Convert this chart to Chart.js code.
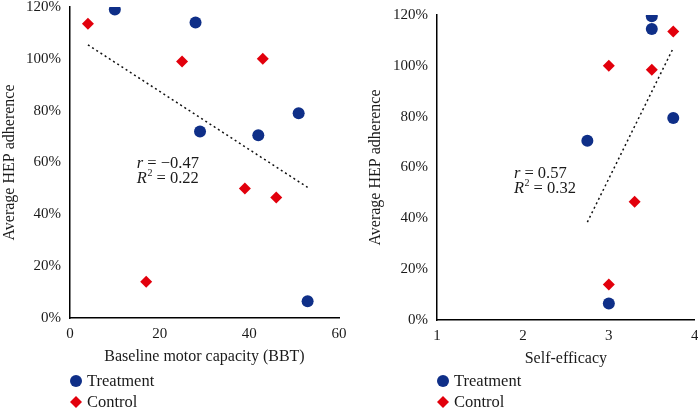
<!DOCTYPE html>
<html>
<head>
<meta charset="utf-8">
<script src="https://cdn.jsdelivr.net/npm/chart.js@4/dist/chart.umd.min.js"></script>
<style>
  html, body { margin: 0; padding: 0; background: #fff; overflow: hidden; }
  body { width: 698px; height: 409px; position: relative; }
  .box { position: absolute; }
</style>
</head>
<body>
<div class="box" id="leftBox" style="left:0px; top:-11px; width:354px; height:420px;"><canvas id="c1"></canvas></div>
<div class="box" id="rightBox" style="left:349px; top:-3px; width:357px; height:412px;"><canvas id="c2"></canvas></div>
<script>
// ---- Data ----
const yTicks = [0, 20, 40, 60, 80, 100, 120];
const bbtTicks = [0, 20, 40, 60];
const seTicks = [1, 2, 3, 4];

const bbtTreatX = [10, 28, 29, 42, 51, 53];
const bbtTreatY = [119, 114, 72, 70.5, 79, 6.5];
const bbtCtrlX = [4, 25, 43, 39, 46, 17];
const bbtCtrlY = [113.5, 99, 100, 50, 46.5, 14];
const bbtTrendX = [4, 53];
const bbtTrendY = [105.4, 50.4];

const seTreatX = [3.5, 3.5, 3.75, 2.75, 3];
const seTreatY = [119.5, 114.5, 79.5, 70.5, 6.5];
const seCtrlX = [3.75, 3, 3.5, 3.3, 3];
const seCtrlY = [113.5, 100, 98.5, 46.5, 14];
const seTrendX = [2.75, 3.75];
const seTrendY = [38.5, 107];

const seriesNames = ['Treatment', 'Control'];
const yTitle = 'Average HEP adherence';
const bbtTitle = 'Baseline motor capacity (BBT)';
const seTitle = 'Self-efficacy';
const bbtStats = { r: '\u22120.47', r2: '0.22' };
const seStats = { r: '0.57', r2: '0.32' };

// ---- Styles ----
const BLUE = '#0f2f88';
const RED = '#e2000c';
const FONT = "'Liberation Serif', 'Times New Roman', serif";
const TXT = '#1a1a1a';

function pts(xs, ys) { return xs.map((x, i) => ({ x: x, y: ys[i] })); }

function makeChart(canvasId, cfg) {
  const legendPlugin = {
    id: 'customLegendAndStats',
    afterDraw(chart) {
      const ctx = chart.ctx;
      const xs = chart.scales.x, ys = chart.scales.y;
      ctx.save();
      const ax = xs.getPixelForValue(cfg.statPos[0]);
      const ay = ys.getPixelForValue(cfg.statPos[1]);
      ctx.fillStyle = TXT;
      ctx.textBaseline = 'alphabetic';
      ctx.textAlign = 'left';
      ctx.font = 'italic 16.5px ' + FONT;
      ctx.fillText('r', ax, ay);
      let w = ctx.measureText('r').width;
      ctx.font = '16.5px ' + FONT;
      ctx.fillText(' = ' + cfg.stats.r, ax + w, ay);
      const ay2 = ay + 15;
      ctx.font = 'italic 16.5px ' + FONT;
      ctx.fillText('R', ax, ay2);
      w = ctx.measureText('R').width;
      ctx.font = '10px ' + FONT;
      ctx.fillText('2', ax + w + 0.5, ay2 - 7);
      const w2 = ctx.measureText('2').width;
      ctx.font = '16.5px ' + FONT;
      ctx.fillText(' = ' + cfg.stats.r2, ax + w + 0.5 + w2, ay2);
      const lx = cfg.legendX, ly = cfg.legendY;
      ctx.fillStyle = BLUE;
      ctx.beginPath();
      ctx.arc(lx, ly, 6, 0, Math.PI * 2);
      ctx.fill();
      ctx.fillStyle = RED;
      ctx.beginPath();
      ctx.moveTo(lx - 6, ly + 21);
      ctx.lineTo(lx, ly + 15);
      ctx.lineTo(lx + 6, ly + 21);
      ctx.lineTo(lx, ly + 27);
      ctx.closePath();
      ctx.fill();
      ctx.fillStyle = TXT;
      ctx.font = '16.5px ' + FONT;
      ctx.fillText(seriesNames[0], lx + 11, ly + 5);
      ctx.fillText(seriesNames[1], lx + 11, ly + 26);
      ctx.restore();
    }
  };

  return new Chart(document.getElementById(canvasId), {
    type: 'scatter',
    data: {
      datasets: [
        { label: seriesNames[0], data: pts(cfg.tx, cfg.ty), pointStyle: 'circle', pointRadius: 6, pointHoverRadius: 6,
          backgroundColor: BLUE, borderColor: BLUE, borderWidth: 0 },
        { label: seriesNames[1], data: pts(cfg.cx, cfg.cy), pointStyle: 'rectRot', pointRadius: 6, pointHoverRadius: 6,
          backgroundColor: RED, borderColor: RED, borderWidth: 0 },
        { label: 'Trend', type: 'line', data: pts(cfg.lx, cfg.ly), showLine: true, fill: false,
          borderColor: '#111', borderWidth: 1.5, borderDash: [2, 3], pointRadius: 0, pointHoverRadius: 0 }
      ]
    },
    options: {
      responsive: true,
      maintainAspectRatio: false,
      animation: false,
      events: [],
      layout: { padding: cfg.padding },
      plugins: { legend: { display: false }, tooltip: { enabled: false } },
      scales: {
        x: {
          type: 'linear', min: cfg.xTicks[0], max: cfg.xTicks[cfg.xTicks.length - 1],
          afterBuildTicks: (s) => { s.ticks = cfg.xTicks.map(v => ({ value: v })); },
          grid: { display: false, drawTicks: false, tickLength: 0 },
          border: { display: true, color: '#000', width: 1.5 },
          ticks: { color: TXT, font: { family: FONT, size: 15 }, padding: 7.5, maxRotation: 0 },
          title: { display: true, text: cfg.xTitle, color: TXT, font: { family: FONT, size: 16 }, padding: { top: 4, bottom: 0 } },
          afterFit: (s) => { s.height = 48; }
        },
        y: {
          type: 'linear', min: 0, max: 120,
          afterBuildTicks: (s) => { s.ticks = yTicks.map(v => ({ value: v })); },
          grid: { display: false, drawTicks: false, tickLength: 0 },
          border: { display: true, color: '#000', width: 1.5 },
          ticks: { color: TXT, font: { family: FONT, size: 15 }, padding: 9, callback: (v) => v + '%' },
          title: { display: true, text: yTitle, color: TXT, font: { family: FONT, size: 16 }, padding: { top: 0, bottom: 0 } },
          afterFit: (s) => { s.width = cfg.yWidth; }
        }
      }
    },
    plugins: [legendPlugin]
  });
}

makeChart('c1', {
  tx: bbtTreatX, ty: bbtTreatY, cx: bbtCtrlX, cy: bbtCtrlY, lx: bbtTrendX, ly: bbtTrendY,
  xTicks: bbtTicks, xTitle: bbtTitle, stats: bbtStats, statPos: [14.9, 58],
  yWidth: 70, padding: { left: 0, right: 2, top: 0, bottom: 43 },
  legendX: 76, legendY: 392
});
makeChart('c2', {
  tx: seTreatX, ty: seTreatY, cx: seCtrlX, cy: seCtrlY, lx: seTrendX, ly: seTrendY,
  xTicks: seTicks, xTitle: seTitle, stats: seStats, statPos: [1.895, 55.7],
  yWidth: 70.6, padding: { left: 17.4, right: 2, top: 0, bottom: 41 },
  legendX: 94, legendY: 384
});
</script>
</body>
</html>
